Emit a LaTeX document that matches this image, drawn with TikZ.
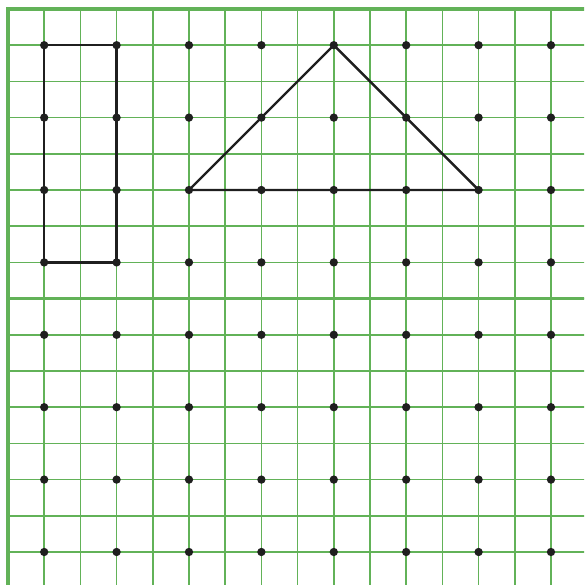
\documentclass[tikz,border=0pt]{standalone}
\usetikzlibrary{positioning}

\definecolor{gridgreen}{RGB}{98,178,88}

\begin{document}
\begin{tikzpicture}[
  x=0.5cm, y=0.5cm,
  thin line/.style={draw=gridgreen, line width=0.6pt},
  frame/.style={draw=gridgreen, line width=1.2pt},
  peg/.style={circle, fill=black!88, draw=none, minimum size=0.115cm, inner sep=0pt},
  band/.style={draw=black!88, line width=0.95pt, line join=round},
]
\useasboundingbox (-0.221,0.249) rectangle (15.912,-15.912);
\clip (-0.221,0.249) rectangle (15.912,-15.912);

% ---------- square paper ----------
\foreach \k in {1,...,15} {
  \draw[thin line] (\k,0) -- (\k,-16);
  \draw[thin line] (0,-\k) -- (16,-\k);
}
\draw[frame] (0,-16) -- (0,0) -- (16,0);
\draw[frame] (0,-8) -- (16,-8);

% ---------- pegs ----------
\foreach \i in {1,3,...,15} {
  \foreach \j in {1,3,...,15} {
    \node[peg] (d\i-\j) at (\i,-\j) {};
  }
}

% ---------- rectangle ----------
\draw[band] (d1-1.center) -- (d3-1.center) -- (d3-7.center) -- (d1-7.center) -- cycle;

% ---------- triangle ----------
\draw[band] (d5-5.center) -- (d9-1.center) -- (d13-5.center) -- cycle;
\end{tikzpicture}
\end{document}
